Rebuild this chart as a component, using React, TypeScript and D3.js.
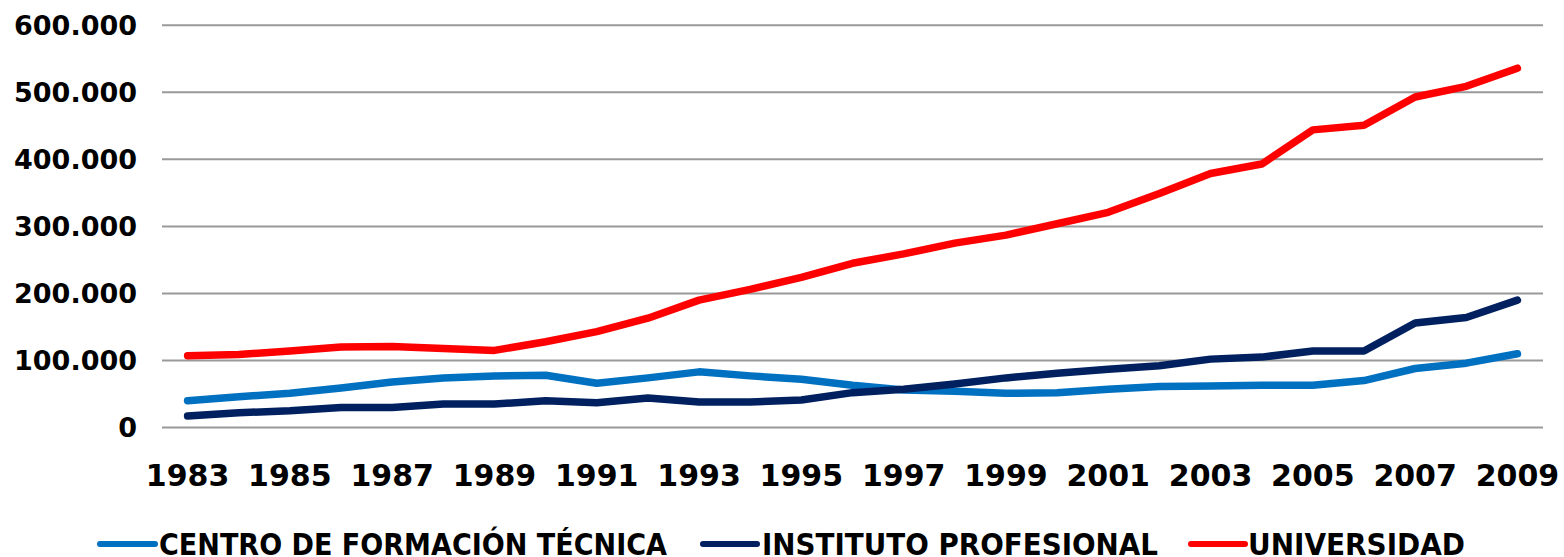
import React from "react";
import * as d3 from "d3";

const years: string[] = [
  "1983","1984","1985","1986","1987","1988","1989","1990","1991","1992",
  "1993","1994","1995","1996","1997","1998","1999","2000","2001","2002",
  "2003","2004","2005","2006","2007","2008","2009",
];

const cft: number[] = [
  40000, 46000, 51000, 59000, 68000, 74000, 77000, 78000, 66000, 74000,
  83000, 77000, 72000, 63000, 56000, 54000, 51000, 52000, 57000, 61000,
  62000, 63000, 63000, 70000, 88000, 96000, 110000,
];

const ip: number[] = [
  17000, 22000, 25000, 30000, 30000, 35000, 35000, 40000, 37000, 44000,
  38000, 38000, 41000, 52000, 57000, 65000, 74000, 81000, 87000, 92000,
  102000, 105000, 114000, 114000, 156000, 164000, 190000,
];

const univ: number[] = [
  107000, 109000, 114000, 120000, 121000, 118000, 115000, 128000, 143000, 163000,
  190000, 206000, 224000, 245000, 259000, 275000, 287000, 304000, 321000, 349000,
  379000, 393000, 444000, 451000, 493000, 509000, 536000,
];

const yTicks: number[] = [0, 100000, 200000, 300000, 400000, 500000, 600000];
const yTickLabels: string[] = ["0", "100.000", "200.000", "300.000", "400.000", "500.000", "600.000"];
const xTickLabels: string[] = [
  "1983","1985","1987","1989","1991","1993","1995","1997","1999","2001","2003","2005","2007","2009",
];

const seriesNames: string[] = ["CENTRO DE FORMACIÓN TÉCNICA", "INSTITUTO PROFESIONAL", "UNIVERSIDAD"];
const seriesColors: string[] = ["#0070C0", "#002060", "#FF0000"];

const W = 1564;
const H = 557;
const FONT = "'DejaVu Sans', Verdana, sans-serif";

export default function App() {
  const left = 162;
  const right = 1543;
  const top = 25.3;
  const bottom = 427.5;

  const x = d3.scaleBand<string>().domain(years).range([left, right]).padding(0);
  const cx = (yr: string) => (x(yr) as number) + x.bandwidth() / 2;
  const y = d3.scaleLinear().domain([0, 600000]).range([bottom, top]);

  const seriesData = [cft, ip, univ];
  const line = d3
    .line<number>()
    .x((_, i) => cx(years[i]))
    .y((v) => y(v));

  const legendItems = [
    { lx1: 100, lx2: 155, tx: 159, tw: 508 },
    { lx1: 703, lx2: 757, tx: 762, tw: 396 },
    { lx1: 1191, lx2: 1245, tx: 1248, tw: 217 },
  ];

  return (
    <svg
      width={W}
      height={H}
      style={{ position: "absolute", left: 0, top: 0, background: "#fff" }}
      fontFamily={FONT}
    >
      {yTicks.map((t, i) => (
        <g key={t}>
          <line x1={left} x2={right} y1={y(t)} y2={y(t)} stroke="#999" strokeWidth={2} />
          <text
            x={137}
            y={y(t)}
            dy="0.36em"
            textAnchor="end"
            fontSize={27}
            fontWeight="bold"
            fill="#000"
          >
            {yTickLabels[i]}
          </text>
        </g>
      ))}
      {xTickLabels.map((l) => (
        <text
          key={l}
          x={cx(l)}
          y={485.5}
          textAnchor="middle"
          fontSize={30}
          fontWeight="bold"
          fill="#000"
        >
          {l}
        </text>
      ))}
      {seriesData.map((d, i) => (
        <path
          key={seriesNames[i]}
          d={line(d) as string}
          fill="none"
          stroke={seriesColors[i]}
          strokeWidth={7.5}
          strokeLinejoin="round"
          strokeLinecap="round"
        />
      ))}
      {legendItems.map((it, i) => (
        <g key={seriesNames[i]}>
          <line
            x1={it.lx1}
            x2={it.lx2}
            y1={544}
            y2={544}
            stroke={seriesColors[i]}
            strokeWidth={6}
            strokeLinecap="round"
          />
          <text
            x={it.tx}
            y={555}
            fontSize={30}
            fontWeight="bold"
            fill="#000"
            textLength={it.tw}
            lengthAdjust="spacingAndGlyphs"
          >
            {seriesNames[i]}
          </text>
        </g>
      ))}
    </svg>
  );
}
